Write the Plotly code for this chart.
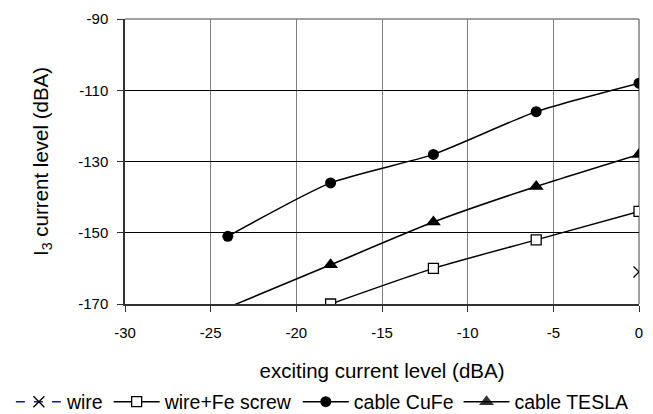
import plotly.graph_objects as go

# I3 current level (dBA) against exciting current level (dBA), per configuration
wire_x = [0]
wire_y = [-161]

fe_screw_x = [-18, -12, -6, 0]
fe_screw_y = [-170, -160, -152, -144]

cufe_x = [-24, -18, -12, -6, 0]
cufe_y = [-151, -136, -128, -116, -108]

tesla_x = [-24, -18, -12, -6, 0]
tesla_y = [-171, -159, -147, -137, -128]

x_ticks = [-30, -25, -20, -15, -10, -5, 0]
x_tick_labels = ["-30", "-25", "-20", "-15", "-10", "-5", "0"]
y_ticks = [-170, -150, -130, -110, -90]
y_tick_labels = ["-170", "-150", "-130", "-110", "-90"]

FONT = "Liberation Sans, Arial, sans-serif"
SMOOTH = dict(color="black", width=1.5, shape="spline", smoothing=0.6)

fig = go.Figure()

fig.add_trace(go.Scatter(
    x=wire_x, y=wire_y, name="wire", mode="lines+markers",
    line=dict(color="#1a1a8c", width=1.5, dash="dash"),
    marker=dict(symbol="x-thin", size=11, color="black",
                line=dict(color="black", width=1.3)),
))
fig.add_trace(go.Scatter(
    x=fe_screw_x, y=fe_screw_y, name="wire+Fe screw", mode="lines+markers",
    line=SMOOTH,
    marker=dict(symbol="square", size=10, color="white",
                line=dict(color="black", width=1.3)),
))
fig.add_trace(go.Scatter(
    x=cufe_x, y=cufe_y, name="cable CuFe", mode="lines+markers",
    line=SMOOTH,
    marker=dict(symbol="circle", size=11, color="black"),
))
# The -24 dBA point lies below the axis range, so its marker is hidden
fig.add_trace(go.Scatter(
    x=tesla_x, y=tesla_y, name="cable TESLA", mode="lines+markers",
    line=SMOOTH,
    marker=dict(symbol="triangle-up", size=13, color="#000000",
                opacity=[0, 1, 1, 1, 1]),
))

# Grey frame on the top and right edges of the plot area
fig.add_shape(type="line", xref="paper", yref="paper", x0=0, x1=1, y0=1, y1=1,
              line=dict(color="#808080", width=1.5), layer="between")
fig.add_shape(type="line", xref="paper", yref="paper", x0=1, x1=1, y0=0, y1=1,
              line=dict(color="#808080", width=1.5), layer="between")

fig.update_layout(
    width=653, height=414,
    margin=dict(l=125, r=14, t=19, b=110, autoexpand=False),
    paper_bgcolor="white", plot_bgcolor="white",
    font=dict(family=FONT, size=15, color="black"),
    showlegend=True,
    legend=dict(orientation="h", x=-0.222, xanchor="left",
                y=-0.344, yanchor="middle",
                font=dict(size=19.5), itemwidth=46, tracegroupgap=0),
    xaxis=dict(
        range=[-30, 0], tickvals=x_ticks, ticktext=x_tick_labels,
        ticks="outside", ticklen=6, ticklabelstandoff=8,
        tickcolor="#303030", showline=True, linecolor="#303030", linewidth=1.5,
        showgrid=True, gridcolor="#808080", gridwidth=1.2, zeroline=False,
        title=dict(text="exciting current level (dBA)", standoff=24,
                   font=dict(size=20.5)),
        tickfont=dict(size=15),
    ),
    yaxis=dict(
        range=[-170, -90], tickvals=y_ticks, ticktext=y_tick_labels,
        ticks="outside", ticklen=6, ticklabelstandoff=6,
        tickcolor="#303030", showline=True, linecolor="#303030", linewidth=1.5,
        showgrid=True, gridcolor="black", gridwidth=1, zeroline=False,
        title=dict(text="I<sub>3</sub> current level (dBA)", standoff=24,
                   font=dict(size=20.5)),
        tickfont=dict(size=15),
    ),
)

fig.write_html("out.html")
